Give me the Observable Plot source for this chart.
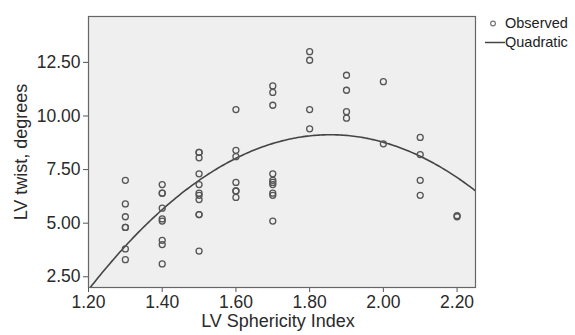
<!DOCTYPE html>
<html><head><meta charset="utf-8">
<script src="https://cdn.jsdelivr.net/npm/d3@7"></script>
<script src="https://cdn.jsdelivr.net/npm/@observablehq/plot@0.6"></script>
<style>
body{margin:0;background:#fff;}
#wrap{position:relative;width:575px;height:335px;font-family:"Liberation Sans",Arial,sans-serif;color:#222;}
#legend{position:absolute;left:484px;top:14px;font-size:14.5px;line-height:19px;}
#legend .row{display:flex;align-items:center;height:19px;}
#legend .sym{width:21px;height:19px;display:flex;align-items:center;justify-content:center;}
</style></head><body>
<div id="wrap"><div id="legend"></div></div>
<script>
const sphericity = [
  1.3,1.3,1.3,1.3,1.3,1.3,1.3,
  1.4,1.4,1.4,1.4,1.4,1.4,1.4,1.4,1.4,
  1.5,1.5,1.5,1.5,1.5,1.5,1.5,1.5,1.5,1.5,1.5,
  1.6,1.6,1.6,1.6,1.6,1.6,1.6,
  1.7,1.7,1.7,1.7,1.7,1.7,1.7,1.7,1.7,1.7,
  1.8,1.8,1.8,1.8,
  1.9,1.9,1.9,1.9,
  2.0,2.0,
  2.1,2.1,2.1,2.1,
  2.2,2.2
];
const twist = [
  7.0,5.9,5.3,4.8,4.8,3.8,3.3,
  6.8,6.4,6.4,5.7,5.2,5.1,4.2,4.0,3.1,
  8.3,8.3,8.05,7.3,6.8,6.4,6.3,6.1,5.4,5.4,3.7,
  10.3,8.4,8.1,6.9,6.5,6.5,6.2,
  11.4,11.1,10.5,7.3,7.0,6.9,6.8,6.4,6.3,5.1,
  13.0,12.6,10.3,9.4,
  11.9,11.2,10.2,9.9,
  11.6,8.7,
  9.0,8.2,7.0,6.3,
  5.35,5.3
];
const xTicks = [1.2,1.4,1.6,1.8,2.0,2.2];
const yTicks = [2.5,5.0,7.5,10.0,12.5];
const xDomain = [1.2,2.25];
const yDomain = [2.0,14.64];
const seriesNames = ["Observed","Quadratic"];
const xLabel = "LV Sphericity Index";
const yLabel = "LV twist, degrees";

const observed = sphericity.map((s,i)=>({x:s,y:twist[i]}));

// least-squares quadratic fit of the observed data
function quadFit(xs, ys){
  const S = [0,0,0,0,0], T=[0,0,0];
  xs.forEach((x,i)=>{ for(let k=0;k<5;k++) S[k]+=x**k; for(let k=0;k<3;k++) T[k]+=ys[i]*x**k; });
  const A = [[S[0],S[1],S[2],T[0]],[S[1],S[2],S[3],T[1]],[S[2],S[3],S[4],T[2]]];
  for(let c=0;c<3;c++){
    for(let r=c+1;r<3;r++){ const f=A[r][c]/A[c][c]; for(let k=c;k<4;k++) A[r][k]-=f*A[c][k]; }
  }
  const b=[0,0,0];
  for(let r=2;r>=0;r--){ let s=A[r][3]; for(let k=r+1;k<3;k++) s-=A[r][k]*b[k]; b[r]=s/A[r][r]; }
  return b;
}
const coef = quadFit(sphericity, twist);
const curve = d3.range(0,201).map(i=>{ const x=xDomain[0]+i*(xDomain[1]-xDomain[0])/200; return {x, y:coef[0]+coef[1]*x+coef[2]*x*x}; });

const chart = Plot.plot({
  width:575, height:335,
  marginLeft:88, marginRight:100, marginTop:16, marginBottom:48,
  style:{fontSize:"17.5px", fontFamily:"'Liberation Sans', Arial, sans-serif", color:"#2a2a2a", background:"#fff"},
  x:{domain:xDomain},
  y:{domain:yDomain},
  marks:[
    Plot.frame({fill:"#efefef", stroke:null}),
    Plot.axisX(xTicks,{tickFormat:d3.format(".2f"), tickSize:5, tickPadding:3, stroke:"#555", label:null}),
    Plot.axisY(yTicks,{tickFormat:d3.format(".2f"), tickSize:5, tickPadding:3, stroke:"#555", label:null}),
    Plot.text([xLabel],{frameAnchor:"bottom", dx:-4, dy:39, fontSize:18, fill:"#2a2a2a"}),
    Plot.text([yLabel],{frameAnchor:"left", dx:-67, rotate:-90, textAnchor:"middle", fontSize:18, fill:"#2a2a2a"}),
    Plot.line(curve,{x:"x", y:"y", stroke:"#444", strokeWidth:1.6, clip:true}),
    Plot.dot(observed,{x:"x", y:"y", r:3, stroke:"#555", strokeWidth:1.3, fill:"none"}),
    Plot.frame({stroke:"#666", strokeWidth:1.2})
  ]
});
document.getElementById("wrap").prepend(chart);

const legend = document.getElementById("legend");
seriesNames.forEach((name,i)=>{
  const row=document.createElement("div"); row.className="row";
  const sym=document.createElement("div"); sym.className="sym";
  sym.innerHTML = i===0
    ? '<svg width="21" height="19"><circle cx="9" cy="9.5" r="2.4" fill="none" stroke="#777" stroke-width="1.2"/></svg>'
    : '<svg width="21" height="19"><line x1="1" x2="21" y1="9.5" y2="9.5" stroke="#444" stroke-width="1.5"/></svg>';
  const t=document.createElement("span"); t.textContent=name;
  row.appendChild(sym); row.appendChild(t); legend.appendChild(row);
});
</script>
</body></html>
